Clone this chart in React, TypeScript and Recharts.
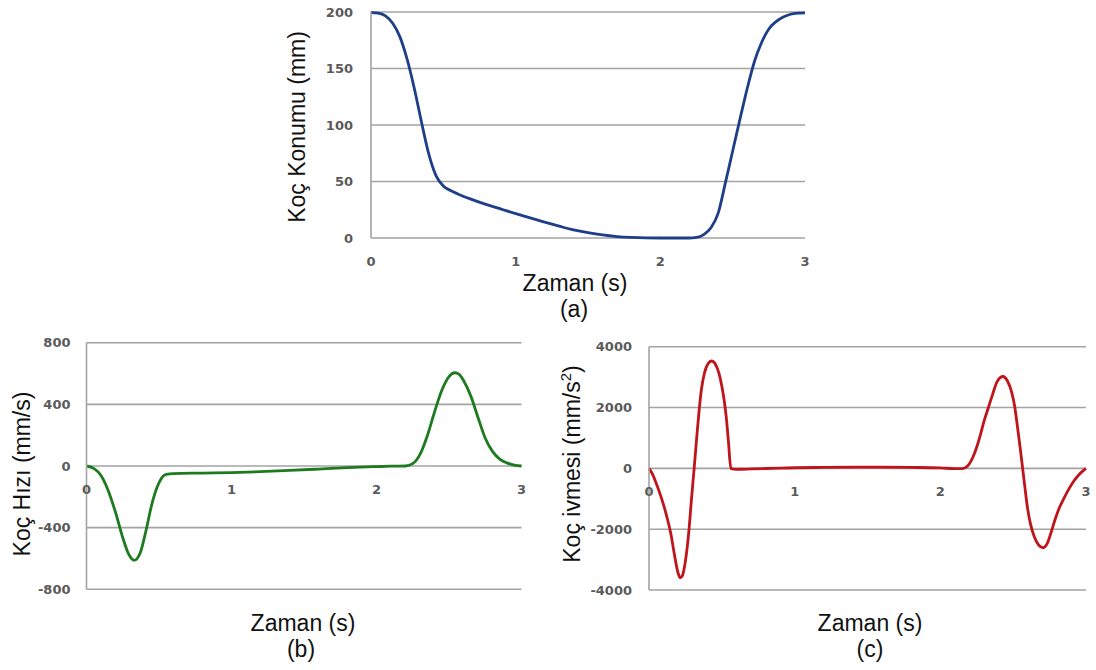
import React from 'react';
import { LineChart, Line, XAxis, YAxis, CartesianGrid } from 'recharts';

// ---- data ----
const timeA = [0, 0.05, 0.1, 0.15, 0.2, 0.25, 0.3, 0.35, 0.4, 0.45, 0.5, 0.55, 0.6, 0.7, 0.8, 0.9, 1.0, 1.1, 1.2, 1.3, 1.4, 1.5, 1.6, 1.7, 1.8, 1.9, 2.0, 2.1, 2.2, 2.25, 2.3, 2.35, 2.4, 2.45, 2.5, 2.55, 2.6, 2.65, 2.7, 2.75, 2.8, 2.85, 2.9, 2.95, 3.0];
const positionA = [199.5, 199, 196.5, 190, 178, 158, 132, 102, 74, 55, 46, 42, 39, 34, 29.5, 25.5, 21.5, 17.8, 14, 10.5, 7.2, 4.7, 2.7, 1.3, 0.5, 0.1, 0, 0, 0, 0.5, 3, 9, 22, 49, 77, 105, 132, 156, 173, 185, 191.5, 195.5, 198, 199, 199.3];

const timeB = [0, 0.05, 0.1, 0.15, 0.2, 0.25, 0.29, 0.33, 0.37, 0.41, 0.45, 0.49, 0.52, 0.55, 0.6, 0.8, 1.0, 1.2, 1.4, 1.6, 1.8, 2.0, 2.1, 2.2, 2.25, 2.3, 2.35, 2.4, 2.45, 2.5, 2.54, 2.57, 2.6, 2.65, 2.7, 2.75, 2.8, 2.85, 2.9, 2.95, 3.0];
const velocityB = [0, -15, -62, -160, -300, -465, -570, -612, -565, -420, -250, -130, -75, -54, -49, -46, -43, -37, -29, -20, -11, -4, -1, 0, 15, 75, 195, 350, 490, 580, 605, 595, 555, 455, 315, 180, 95, 45, 20, 6, 0];

const timeC = [0, 0.025, 0.05, 0.075, 0.1, 0.125, 0.15, 0.175, 0.2, 0.215, 0.23, 0.25, 0.275, 0.29, 0.31, 0.33, 0.345, 0.36, 0.38, 0.405, 0.43, 0.455, 0.48, 0.5, 0.516, 0.53, 0.545, 0.562, 0.6, 0.7, 0.9, 1.2, 1.5, 1.8, 2.0, 2.1, 2.15, 2.175, 2.2, 2.225, 2.25, 2.275, 2.3, 2.33, 2.36, 2.39, 2.43, 2.46, 2.49, 2.51, 2.53, 2.55, 2.565, 2.58, 2.6, 2.62, 2.645, 2.675, 2.706, 2.735, 2.764, 2.79, 2.815, 2.844, 2.88, 2.913, 2.95, 2.975, 3.0];
const accelC = [0, -200, -500, -830, -1200, -1640, -2150, -2850, -3450, -3600, -3520, -3050, -2000, -1100, 0, 1150, 1950, 2600, 3120, 3440, 3530, 3430, 3130, 2700, 2240, 1700, 900, 0, -30, -20, 10, 30, 40, 30, 15, -10, -10, 30, 150, 380, 700, 1100, 1550, 2000, 2450, 2850, 3020, 2880, 2500, 2050, 1350, 600, 0, -600, -1350, -1850, -2250, -2520, -2610, -2460, -2050, -1650, -1320, -1030, -700, -440, -220, -100, 0];

const xTicks = [0, 1, 2, 3];
const ticksA = [0, 50, 100, 150, 200];
const ticksB = [-800, -400, 0, 400, 800];
const ticksC = [-4000, -2000, 0, 2000, 4000];

const xTitle = 'Zaman (s)';
const titleA = 'Koç Konumu (mm)';
const titleB = 'Koç Hızı (mm/s)';
const titleCMain = 'Koç ivmesi (mm/s';
const titleCSup = '2';
const titleCEnd = ')';
const captionA = '(a)';
const captionB = '(b)';
const captionC = '(c)';

// ---- styles ----
const FONT = '"Liberation Sans", Arial, sans-serif';
const TICK_FONT = '"DejaVu Sans", sans-serif';
const TICK_COLOR = '#5a5a5a';
const TICK_SIZE = 13;
const TICK_WEIGHT = 'bold';
const GRID_COLOR = '#a3a3a3';
const X_AXIS_H = 30;

const build = (ts: number[], vs: number[]) => ts.map((t, i) => ({ t, v: vs[i] }));

type PanelCfg = {
  left: number; top: number; width: number; height: number;
  margin: { top: number; right: number; bottom: number; left: number };
  yWidth: number; tickGap: number;
  data: { t: number; v: number }[];
  color: string;
  domain: [number, number];
  ticks: number[];
  zeroAxis: boolean;
  yTitle: React.ReactNode;
  yTitlePos: [number, number];
  xTitlePos: [number, number];
  capPos: [number, number];
  caption: string;
};

const Panel = ({ cfg }: { cfg: PanelCfg }) => {
  const plotH = cfg.height - cfg.margin.top - cfg.margin.bottom - X_AXIS_H;
  const shift = cfg.zeroAxis ? plotH / 2 : 0;
  const XTick = (p: any) => (
    <text x={p.x} y={p.y - shift + 23} dy="0.355em" textAnchor="middle" fontSize={TICK_SIZE} fontWeight={TICK_WEIGHT} fontFamily={TICK_FONT} fill={TICK_COLOR}>
      {p.payload.value}
    </text>
  );
  const xLabel = () => (
    <g>
      <text x={cfg.xTitlePos[0]} y={cfg.xTitlePos[1]} dy="0.35em" textAnchor="middle" fontSize={23} fontFamily={FONT} fill="#111">{xTitle}</text>
      <text x={cfg.capPos[0]} y={cfg.capPos[1]} dy="0.35em" textAnchor="middle" fontSize={23} fontFamily={FONT} fill="#111">{cfg.caption}</text>
    </g>
  );
  const yLabel = () => (
    <text
      x={cfg.yTitlePos[0]}
      y={cfg.yTitlePos[1]}
      dy="0.35em"
      textAnchor="middle"
      fontSize={23}
      fontFamily={FONT}
      fill="#111"
      transform={`rotate(-90 ${cfg.yTitlePos[0]} ${cfg.yTitlePos[1]})`}
    >
      {cfg.yTitle}
    </text>
  );
  return (
    <div style={{ position: 'absolute', left: cfg.left, top: cfg.top }}>
      <LineChart width={cfg.width} height={cfg.height} data={cfg.data} margin={cfg.margin}>
        <CartesianGrid vertical={false} stroke={GRID_COLOR} strokeWidth={1.6} />
        <XAxis
          type="number"
          dataKey="t"
          domain={[0, 3]}
          ticks={xTicks}
          height={X_AXIS_H}
          axisLine={false}
          tickLine={false}
          tickSize={0}
          tickMargin={0}
          tick={XTick}
          label={{ content: xLabel }}
        />
        <YAxis
          type="number"
          domain={cfg.domain}
          ticks={cfg.ticks}
          width={cfg.yWidth}
          axisLine={{ stroke: GRID_COLOR, strokeWidth: 1.6 }}
          tickLine={false}
          tickSize={0}
          tickMargin={cfg.tickGap}
          tick={{ fontSize: TICK_SIZE, fontWeight: TICK_WEIGHT, fill: TICK_COLOR, fontFamily: TICK_FONT }}
          label={{ content: yLabel }}
        />
        <Line type="monotone" dataKey="v" stroke={cfg.color} strokeWidth={2.8} dot={false} isAnimationActive={false} />
      </LineChart>
    </div>
  );
};

const panels: PanelCfg[] = [
  {
    left: 270, top: 0, width: 560, height: 330,
    margin: { top: 12, right: 25, bottom: 62, left: 0 },
    yWidth: 101, tickGap: 18,
    data: build(timeA, positionA), color: '#1F3E88',
    domain: [0, 200], ticks: ticksA, zeroAxis: false,
    yTitle: titleA, yTitlePos: [27, 127],
    xTitlePos: [305, 283], capPos: [304, 309], caption: captionA,
  },
  {
    left: 0, top: 330, width: 545, height: 340,
    margin: { top: 12.7, right: 23.5, bottom: 50.7, left: 0 },
    yWidth: 86.5, tickGap: 16,
    data: build(timeB, velocityB), color: '#1E7A1E',
    domain: [-800, 800], ticks: ticksB, zeroAxis: true,
    yTitle: titleB, yTitlePos: [22, 144],
    xTitlePos: [303, 292.5], capPos: [301, 319], caption: captionB,
  },
  {
    left: 548, top: 330, width: 548, height: 340,
    margin: { top: 16.7, right: 10, bottom: 50, left: 0 },
    yWidth: 101, tickGap: 17,
    data: build(timeC, accelC), color: '#C0141C',
    domain: [-4000, 4000], ticks: ticksC, zeroAxis: true,
    yTitle: (
      <>
        {titleCMain}
        <tspan dy="-9" fontSize={15}>{titleCSup}</tspan>
        <tspan dy="9">{titleCEnd}</tspan>
      </>
    ),
    yTitlePos: [24, 134],
    xTitlePos: [322, 292.6], capPos: [322, 319.2], caption: captionC,
  },
];

export default function App() {
  return (
    <div style={{ position: 'absolute', left: 0, top: 0, width: 1096, height: 670, background: '#fff' }}>
      {panels.map((p, i) => (
        <Panel key={i} cfg={p} />
      ))}
    </div>
  );
}
